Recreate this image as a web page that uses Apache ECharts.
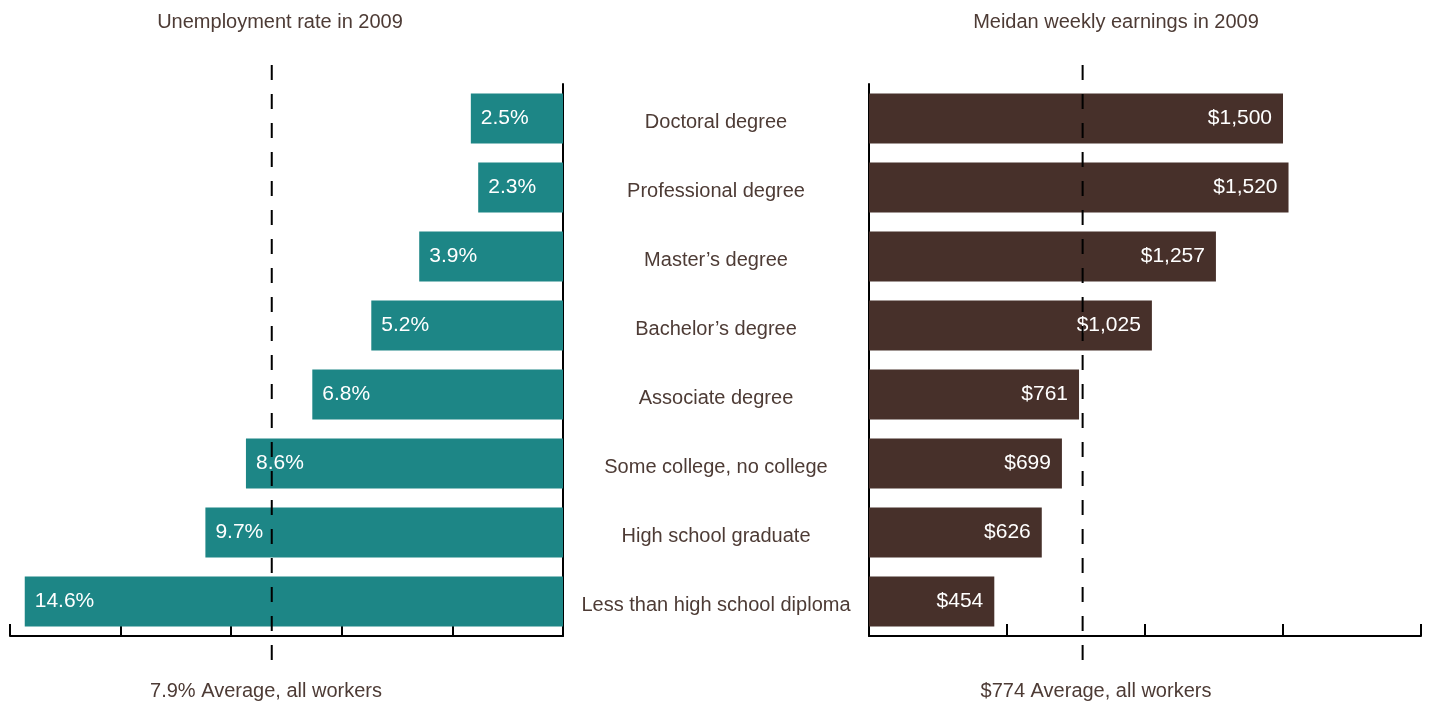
<!DOCTYPE html>
<html>
<head>
<meta charset="utf-8">
<script src="https://cdn.jsdelivr.net/npm/echarts@6/dist/echarts.min.js"></script>
<style>
  html, body { margin: 0; padding: 0; background: #fff; }
  #chart { width: 1429px; height: 702px; }
</style>
</head>
<body>
<div id="chart"></div>
<script>
// Education levels, top to bottom
const categories = [
  'Doctoral degree',
  'Professional degree',
  'Master\u2019s degree',
  'Bachelor\u2019s degree',
  'Associate degree',
  'Some college, no college',
  'High school graduate',
  'Less than high school diploma'
];
// Unemployment rate in 2009 (%)
const unemployment = [2.5, 2.3, 3.9, 5.2, 6.8, 8.6, 9.7, 14.6];
// Median weekly earnings in 2009 ($)
const earnings = [1500, 1520, 1257, 1025, 761, 699, 626, 454];
// Averages for all workers
const avgUnemployment = 7.9;
const avgEarnings = 774;

const FONT = "'Liberation Sans', Arial, Helvetica, sans-serif";
const TEXT = '#4d3b35';
const TEAL = '#1d8686';
const BROWN = '#47302a';

const chart = echarts.init(document.getElementById('chart'), null, { renderer: 'canvas' });

const axisLineStyle = { color: '#000', width: 2 };

// Vertical dashed average line drawn through the axis scale, extending past the plot area
function avgLine(params, api) {
  const x = api.coord([api.value(0), 0])[0];
  const cs = params.coordSys;
  return {
    type: 'line',
    shape: { x1: x, y1: cs.y - 19, x2: x, y2: cs.y + cs.height + 29 },
    style: { stroke: '#000', lineWidth: 2, lineDash: [15, 14] }
  };
}

const headStyle = { textAlign: 'center', textVerticalAlign: 'middle', fill: TEXT, font: '20px ' + FONT };

const option = {
  backgroundColor: '#fff',
  textStyle: { fontFamily: FONT },
  animation: false,
  grid: [
    { left: 10, width: 553, top: 84, height: 552 },
    { left: 869, width: 552, top: 84, height: 552 }
  ],
  xAxis: [
    {
      gridIndex: 0, type: 'value', inverse: true, min: 0, max: 15, interval: 3,
      axisLine: { show: true, lineStyle: axisLineStyle },
      axisTick: { show: true, inside: true, length: 12, lineStyle: axisLineStyle },
      axisLabel: { show: false },
      splitLine: { show: false }
    },
    {
      gridIndex: 1, type: 'value', min: 0, max: 2000, interval: 500,
      axisLine: { show: true, lineStyle: axisLineStyle },
      axisTick: { show: true, inside: true, length: 12, lineStyle: axisLineStyle },
      axisLabel: { show: false },
      splitLine: { show: false }
    }
  ],
  yAxis: [
    {
      gridIndex: 0, type: 'category', data: categories, inverse: true, position: 'right',
      axisLine: { show: true, lineStyle: axisLineStyle },
      axisTick: { show: false },
      axisLabel: {
        show: true, align: 'center', margin: 153,
        formatter: v => '{c|' + v + '}',
        rich: {
          c: { fontSize: 20, color: TEXT, fontFamily: FONT, padding: [7, 0, 0, 0] }
        }
      }
    },
    {
      gridIndex: 1, type: 'category', data: categories, inverse: true, position: 'left',
      axisLine: { show: true, lineStyle: axisLineStyle },
      axisTick: { show: false },
      axisLabel: { show: false }
    }
  ],
  series: [
    {
      type: 'bar', xAxisIndex: 0, yAxisIndex: 0, data: unemployment,
      barWidth: 50,
      itemStyle: { color: TEAL },
      label: {
        show: true, position: 'insideLeft', distance: 10,
        color: '#fff', fontSize: 21, fontFamily: FONT,
        formatter: p => p.value + '%'
      },
      z: 2
    },
    {
      type: 'bar', xAxisIndex: 1, yAxisIndex: 1, data: earnings,
      barWidth: 50,
      itemStyle: { color: BROWN },
      label: {
        show: true, position: 'insideRight', distance: 11,
        color: '#fff', fontSize: 21, fontFamily: FONT,
        formatter: p => '$' + p.value.toLocaleString('en-US')
      },
      z: 2
    },
    {
      type: 'custom', xAxisIndex: 0, yAxisIndex: 0, clip: false, z: 5,
      data: [[avgUnemployment, 0]], renderItem: avgLine, silent: true
    },
    {
      type: 'custom', xAxisIndex: 1, yAxisIndex: 1, clip: false, z: 5,
      data: [[avgEarnings, 0]], renderItem: avgLine, silent: true
    }
  ],
  graphic: [
    { type: 'text', x: 280, y: 22, style: Object.assign({ text: 'Unemployment rate in 2009' }, headStyle) },
    { type: 'text', x: 1116, y: 22, style: Object.assign({ text: 'Meidan weekly earnings in 2009' }, headStyle) },
    { type: 'text', x: 266, y: 691, style: Object.assign({ text: avgUnemployment + '% Average, all workers' }, headStyle) },
    { type: 'text', x: 1096, y: 691, style: Object.assign({ text: '$' + avgEarnings + ' Average, all workers' }, headStyle) }
  ]
};

chart.setOption(option);
</script>
</body>
</html>
